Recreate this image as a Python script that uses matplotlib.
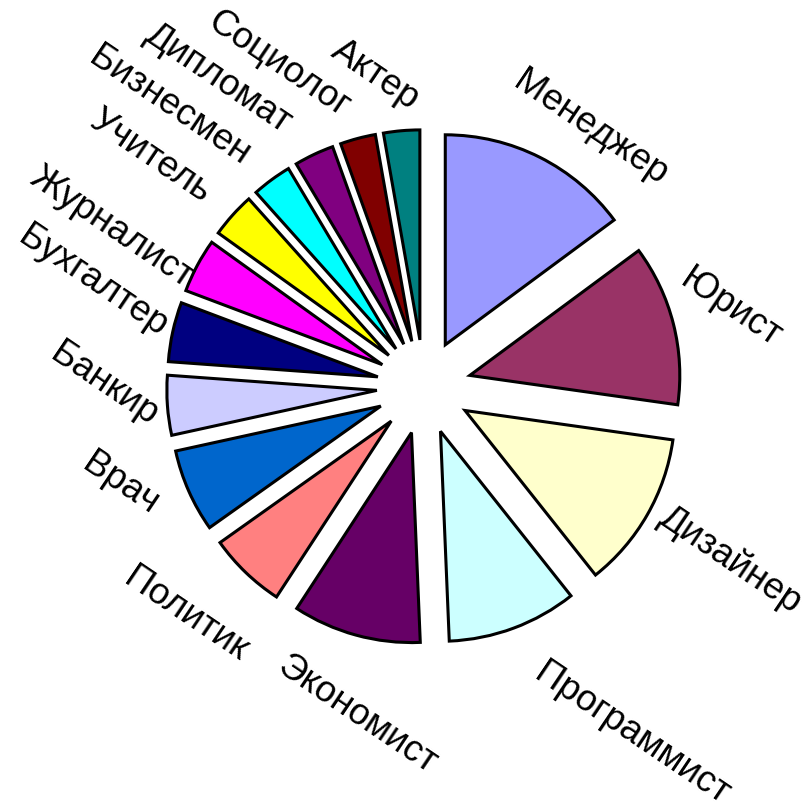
import numpy as np
import matplotlib
matplotlib.use("Agg")
import matplotlib.pyplot as plt

labels = ["Менеджер", "Юрист", "Дизайнер", "Программист", "Экономист", "Политик",
          "Врач", "Банкир", "Бухгалтер", "Журналист", "Учитель", "Бизнесмен",
          "Дипломат", "Социолог", "Актер"]
values = [53.5, 44.5, 43.5, 36.0, 35.5, 21.5, 23.0, 16.5, 16.5, 15.0, 12.5, 11.0, 11.0, 9.8, 10.0]
colors = ["#9999FF", "#993366", "#FFFFCC", "#CCFFFF", "#660066", "#FF8080",
          "#0066CC", "#CCCCFF", "#000080", "#FF00FF", "#FFFF00", "#00FFFF",
          "#800080", "#800000", "#008080"]

# label layout (angular shift from slice middle in degrees, distance in pie radii)
label_shift = [6.0, -0.2, -0.4, -10.5, -3.8, 2.4, 6.1, 4.6, 5.3, -1.1, -1.8, -5.9, -8.4, -9.4, -3.9]
label_dist = [1.467, 1.510, 1.676, 1.924, 1.595, 1.571, 1.519, 1.524, 1.657, 1.671,
              1.705, 1.805, 1.767, 1.686, 1.505]

W, H = 806, 808
fig = plt.figure(figsize=(W / 100, H / 100), dpi=100)
ax = fig.add_axes([0, 0, 1, 1])
scale = 210.0
cx, cy = 424.0, 387.0

explode = [0.225] * len(values)
wedges, _ = ax.pie(values, colors=colors, startangle=90, counterclock=False,
                   explode=explode, radius=1.0,
                   wedgeprops=dict(edgecolor="black", linewidth=2.2))
ax.set_xlim(-cx / scale, (W - cx) / scale)
ax.set_ylim(-(H - cy) / scale, cy / scale)
ax.set_aspect("equal")
ax.axis("off")

rot = -34.0
fs = 26.5
for w, lab, sh, dist in zip(wedges, labels, label_shift, label_dist):
    mid = (w.theta1 + w.theta2) / 2 - sh  # math angle (ccw); shift is clockwise
    a = np.radians(mid)
    ax.text(dist * np.cos(a), dist * np.sin(a), lab, fontsize=fs,
            family="Liberation Sans", ha="center", va="center",
            rotation=rot, rotation_mode="anchor")

fig.savefig("out.png", dpi=100)
